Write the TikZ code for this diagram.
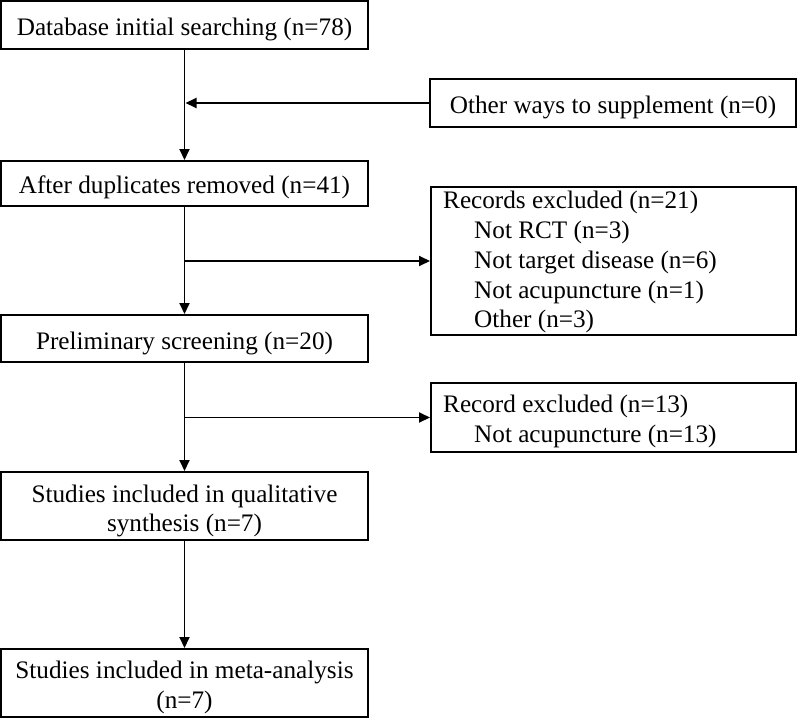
\documentclass[tikz,border=0pt]{standalone}
\usepackage{fontspec}
\setmainfont{Liberation Serif}
\usetikzlibrary{arrows.meta}
\begin{document}
\begin{tikzpicture}[x=1pt,y=-1pt,
  box/.style={draw, line width=2pt, rectangle, inner sep=0pt},
  txt/.style={inner sep=0pt, anchor=base, font=\fontsize{25.2}{29.7}\selectfont},
  txtl/.style={txt, anchor=base west},
  arr/.style={line width=1.9pt, -{Triangle[length=11pt,width=10pt]}}]
\useasboundingbox (0,0) rectangle (800,720);
% boxes
\node[box, minimum width=367pt, minimum height=48pt] (b1) at (184.5,25) {};
\node[box, minimum width=366pt, minimum height=48pt] (other) at (613,103) {};
\node[box, minimum width=367pt, minimum height=45pt] (b2) at (184.5,183.5) {};
\node[box, minimum width=365pt, minimum height=148pt] (rec) at (613.5,261) {};
\node[box, minimum width=367pt, minimum height=47pt] (b3) at (184.5,338.5) {};
\node[box, minimum width=365pt, minimum height=69pt] (rec2) at (613.5,417.5) {};
\node[box, minimum width=367pt, minimum height=68pt] (b4) at (184.5,506) {};
\node[box, minimum width=367pt, minimum height=68pt] (b5) at (184.5,683) {};
% texts
\node[txt] (t1) at (184.5,35) {Database initial searching (n=78)};
\node[txt] (t2) at (613,113) {Other ways to supplement (n=0)};
\node[txt] (t3) at (184.5,193) {After duplicates removed (n=41)};
\node[txtl] (t4) at (443,208) {Records excluded (n=21)};
\node[txtl] (t5) at (474,238) {Not RCT (n=3)};
\node[txtl] (t6) at (474,268) {Not target disease (n=6)};
\node[txtl] (t7) at (474,298) {Not acupuncture (n=1)};
\node[txtl] (t8) at (474,327) {Other (n=3)};
\node[txt] (t9) at (184.5,349) {Preliminary screening (n=20)};
\node[txtl] (t10) at (443,412) {Record excluded (n=13)};
\node[txtl] (t11) at (474,442) {Not acupuncture (n=13)};
\node[txt] (t12) at (184.5,502) {Studies included in qualitative};
\node[txt] (t13) at (184.5,531) {synthesis (n=7)};
\node[txt] (t14) at (184.5,678) {Studies included in meta-analysis};
\node[txt] (t15) at (184.5,708) {(n=7)};
% connectors
\draw[arr] (b1.south) -- (b2.north);
\draw[arr] (b2.south) -- (b3.north);
\draw[arr] (b3.south) -- (b4.north);
\draw[arr] (b4.south) -- (b5.north);
\coordinate (j1) at ([xshift=1pt]b1.south |- other.west);
\coordinate (j2) at (b2.south |- rec.west);
\coordinate (j3) at (b3.south |- rec2.west);
\draw[arr] (other.west) -- (j1);
\draw[arr] (j2) -- (rec.west);
\draw[arr] (j3) -- (rec2.west);
\end{tikzpicture}
\end{document}
